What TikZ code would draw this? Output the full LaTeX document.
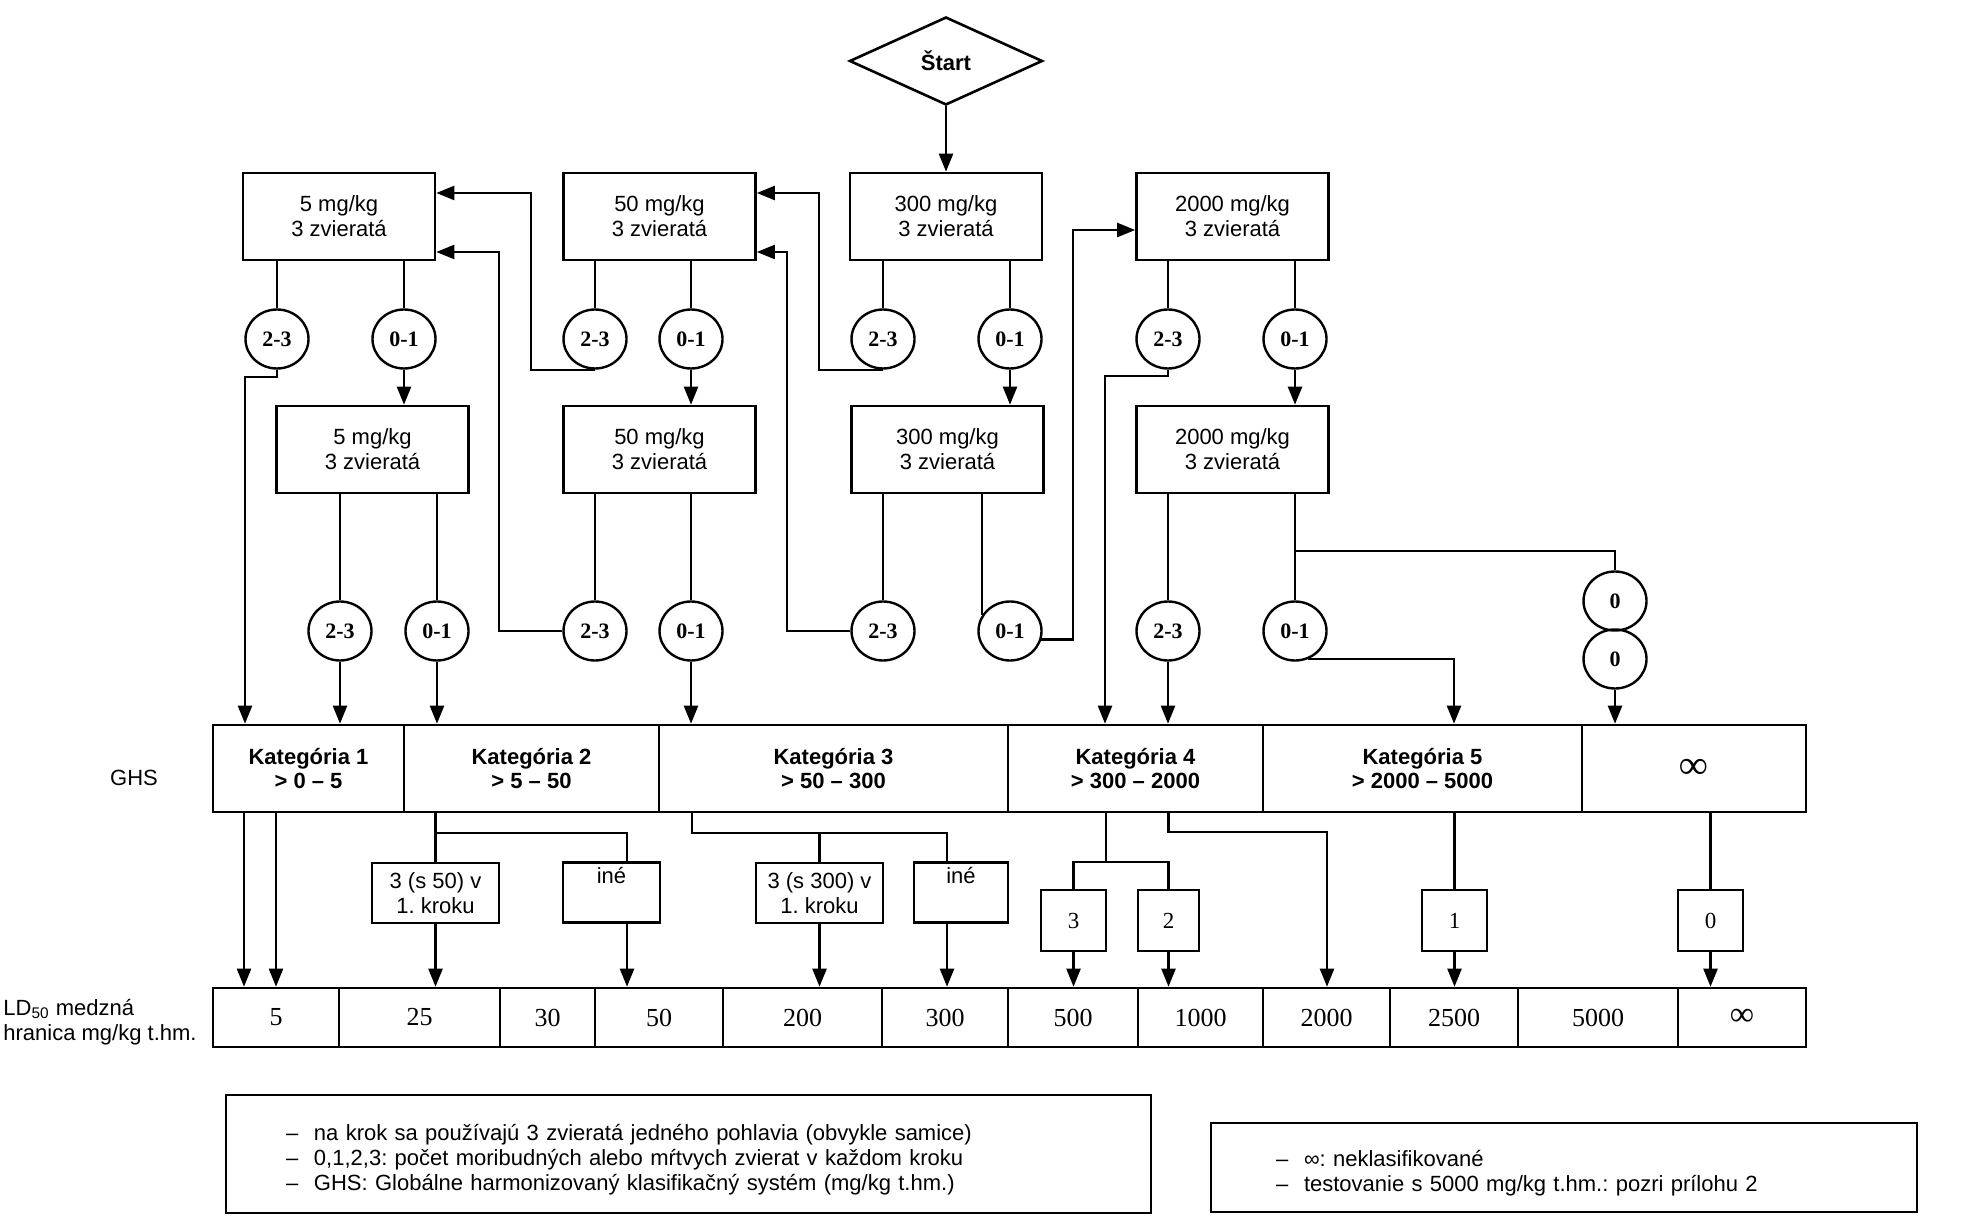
\documentclass[tikz,border=0pt]{standalone}
\usepackage{fontspec}
\setmainfont{Liberation Sans}
\newfontfamily\numfont{Liberation Serif}
\usetikzlibrary{arrows.meta,shapes.geometric}
\frenchspacing
\tikzset{
  startnode/.style={diamond,draw,line width=1.3pt,inner sep=0pt,minimum width=96.5pt,
    minimum height=44pt,font=\fontsize{11}{13}\selectfont\bfseries},
  dosebox/.style={rectangle,draw,line width=1.3pt,minimum width=96pt,minimum height=43.5pt,
    inner sep=0pt,align=center,font=\fontsize{11}{12.5}\selectfont},
  countnode/.style={ellipse,draw,line width=1.2pt,minimum width=31.5pt,minimum height=29.5pt,
    inner sep=0pt,font=\numfont\bfseries\fontsize{11}{11}\selectfont},
  katcell/.style={rectangle,draw,line width=1.3pt,minimum height=43.5pt,inner sep=0pt,
    align=center,font=\fontsize{11}{12}\selectfont\bfseries},
  ldcell/.style={rectangle,draw,line width=1.3pt,minimum height=29.5pt,inner sep=0pt,
    font=\numfont\fontsize{13}{13}\selectfont},
  stepbox/.style={rectangle,draw,line width=1.2pt,minimum height=30pt,inner sep=0pt,
    align=center,font=\fontsize{11}{12.5}\selectfont},
  numbox/.style={rectangle,draw,line width=1.2pt,minimum width=32.5pt,minimum height=30.5pt,
    inner sep=0pt,font=\numfont\fontsize{11.5}{11.5}\selectfont},
  flowline/.style={line width=1.15pt},
  flowarrow/.style={-{Triangle[length=9pt,width=7pt]},line width=1.15pt},
  legbox/.style={rectangle,draw,line width=1.2pt,inner ysep=0pt,align=left,
    font=\fontsize{11}{12.5}\selectfont},
  sidelabel/.style={font=\fontsize{11}{12.5}\selectfont},
}
\newcommand{\legdash}{\makebox[14pt][l]{–}}

\begin{document}
\begin{tikzpicture}[x=50pt,y=50pt]
  \useasboundingbox (0,0) rectangle (19.69,-12.29);

  % start and dose steps
  \node[startnode] (start) at (9.46,-0.61) {Štart};
  \node[dosebox] (a5) at (3.39,-2.165) {5 mg/kg\\3 zvieratá};
  \node[dosebox] (a50) at (6.595,-2.165) {50 mg/kg\\3 zvieratá};
  \node[dosebox] (a300) at (9.46,-2.165) {300 mg/kg\\3 zvieratá};
  \node[dosebox] (a2000) at (12.325,-2.165) {2000 mg/kg\\3 zvieratá};
  \node[dosebox] (b5) at (3.725,-4.495) {5 mg/kg\\3 zvieratá};
  \node[dosebox] (b50) at (6.595,-4.495) {50 mg/kg\\3 zvieratá};
  \node[dosebox] (b300) at (9.475,-4.495) {300 mg/kg\\3 zvieratá};
  \node[dosebox] (b2000) at (12.325,-4.495) {2000 mg/kg\\3 zvieratá};

  % number of dead animals
  \node[countnode] (a5x) at (2.77,-3.39) {2-3};
  \node[countnode] (a5y) at (4.04,-3.39) {0-1};
  \node[countnode] (a50x) at (5.95,-3.39) {2-3};
  \node[countnode] (a50y) at (6.91,-3.39) {0-1};
  \node[countnode] (a300x) at (8.83,-3.39) {2-3};
  \node[countnode] (a300y) at (10.10,-3.39) {0-1};
  \node[countnode] (a2000x) at (11.68,-3.39) {2-3};
  \node[countnode] (a2000y) at (12.95,-3.39) {0-1};
  \node[countnode] (b5x) at (3.40,-6.31) {2-3};
  \node[countnode] (b5y) at (4.37,-6.31) {0-1};
  \node[countnode] (b50x) at (5.95,-6.31) {2-3};
  \node[countnode] (b50y) at (6.91,-6.31) {0-1};
  \node[countnode] (b300x) at (8.83,-6.31) {2-3};
  \node[countnode] (b300y) at (10.10,-6.31) {0-1};
  \node[countnode] (b2000x) at (11.68,-6.31) {2-3};
  \node[countnode] (b2000y) at (12.95,-6.31) {0-1};
  \node[countnode] (z1) at (16.15,-6.01) {0};
  \node[countnode] (z2) at (16.15,-6.59) {0};

  % GHS categories
  \node[sidelabel] (ghs) at (1.34,-7.78) {GHS};
  \node[katcell,minimum width=95.5pt] (g1) at (3.085,-7.685) {Kategória 1\\> 0 – 5};
  \node[katcell,minimum width=127.5pt] (g2) at (5.315,-7.685) {Kategória 2\\> 5 – 50};
  \node[katcell,minimum width=174.5pt] (g3) at (8.335,-7.685) {Kategória 3\\> 50 – 300};
  \node[katcell,minimum width=127.5pt] (g4) at (11.355,-7.685) {Kategória 4\\> 300 – 2000};
  \node[katcell,minimum width=159.5pt] (g5) at (14.225,-7.685) {Kategória 5\\> 2000 – 5000};
  \node[katcell,minimum width=112pt] (ginf) at (16.94,-7.685) {\numfont\fontsize{20}{20}\selectfont ∞};

  % between categories and cut-off values
  \node[stepbox,minimum width=63.5pt] (s50) at (4.355,-8.93) {3 (s 50) v\\1. kroku};
  \node[stepbox,minimum width=48.5pt,inner ysep=2pt,text height=8pt,text depth=17.5pt] (ine1) at (6.115,-8.925) {iné};
  \node[stepbox,minimum width=63.5pt] (s300) at (8.195,-8.93) {3 (s 300) v\\1. kroku};
  \node[stepbox,minimum width=47pt,inner ysep=2pt,text height=8pt,text depth=17.5pt] (ine2) at (9.61,-8.925) {iné};
  \node[numbox] (n3) at (10.735,-9.205) {3};
  \node[numbox,minimum width=30.5pt] (n2) at (11.685,-9.205) {2};
  \node[numbox] (n1) at (14.545,-9.205) {1};
  \node[numbox] (n0) at (17.105,-9.205) {0};

  % LD50 cut-off values
  \node[sidelabel,anchor=west,align=left,inner xsep=0pt] (ldlab) at (0.03,-10.22) {LD\textsubscript{50} medzná\\hranica mg/kg t.hm.};
  \node[ldcell,minimum width=63pt] (l5) at (2.76,-10.175) {5};
  \node[ldcell,minimum width=80.5pt] (l25) at (4.195,-10.175) {25};
  \node[ldcell,minimum width=47.5pt] (l30) at (5.475,-10.175) {30};
  \node[ldcell,minimum width=64pt] (l50) at (6.59,-10.175) {50};
  \node[ldcell,minimum width=79.5pt] (l200) at (8.025,-10.175) {200};
  \node[ldcell,minimum width=63pt] (l300) at (9.45,-10.175) {300};
  \node[ldcell,minimum width=65pt] (l500) at (10.73,-10.175) {500};
  \node[ldcell,minimum width=62.5pt] (l1000) at (12.005,-10.175) {1000};
  \node[ldcell,minimum width=63.5pt] (l2000) at (13.265,-10.175) {2000};
  \node[ldcell,minimum width=64pt] (l2500) at (14.54,-10.175) {2500};
  \node[ldcell,minimum width=80pt] (l5000) at (15.98,-10.175) {5000};
  \node[ldcell,minimum width=64pt] (linf) at (17.42,-10.175) {\fontsize{17}{17}\selectfont ∞};

  % legend
  \node[legbox,text width=402.5pt,inner xsep=30pt,minimum height=59pt] (leg1) at (6.885,-11.54)
    {\rule{0pt}{14pt}\legdash na krok sa používajú 3 zvieratá jedného pohlavia (obvykle samice)\\
     \legdash 0,1,2,3: počet moribudných alebo mŕtvych zvierat v každom kroku\\
     \legdash GHS: Globálne harmonizovaný klasifikačný systém (mg/kg t.hm.)};
  \node[legbox,text width=288pt,inner xsep=32.5pt,minimum height=44.5pt] (leg2) at (15.64,-11.675)
    {\rule{0pt}{14pt}\legdash ∞: neklasifikované\\
     \legdash testovanie s 5000 mg/kg t.hm.: pozri prílohu 2};

  % bends
  \coordinate (j1) at (2.45,-3.77);
  \coordinate (j2) at (5.31,-1.93);
  \coordinate (j3) at (4.99,-2.52);
  \coordinate (j4) at (8.19,-1.93);
  \coordinate (j5) at (7.87,-2.52);
  \coordinate (j6) at (10.73,-2.30);
  \coordinate (j7) at (11.05,-3.76);
  \coordinate (j8) at (14.54,-6.58);
  \coordinate (j9) at (12.95,-5.51);
  \coordinate (c1a) at (2.44,-8.12);
  \coordinate (c1b) at (2.76,-8.12);
  \coordinate (h2) at (4.36,-8.33);
  \coordinate (h2r) at (6.27,-8.33);
  \coordinate (h3) at (6.92,-8.33);
  \coordinate (h3r) at (9.47,-8.33);
  \coordinate (h4) at (11.06,-8.62);
  \coordinate (h5) at (13.27,-8.32);

  \draw[flowarrow] (start.south) -- (a300.north);

  % boxes to counts
  \draw[flowline] (a5.south -| a5x) -- (a5x);
  \draw[flowline] (a5.south -| a5y) -- (a5y);
  \draw[flowline] (a50.south -| a50x) -- (a50x);
  \draw[flowline] (a50.south -| a50y) -- (a50y);
  \draw[flowline] (a300.south -| a300x) -- (a300x);
  \draw[flowline] (a300.south -| a300y) -- (a300y);
  \draw[flowline] (a2000.south -| a2000x) -- (a2000x);
  \draw[flowline] (a2000.south -| a2000y) -- (a2000y);
  \draw[flowline] (b5.south -| b5x) -- (b5x);
  \draw[flowline] (b5.south -| b5y) -- (b5y);
  \draw[flowline] (b50.south -| b50x) -- (b50x);
  \draw[flowline] (b50.south -| b50y) -- (b50y);
  \draw[flowline] (b300.south -| b300x) -- (b300x);
  \draw[flowline] (b300.south -| b300y.150) -- (b300y.150);
  \draw[flowline] (b2000.south -| b2000x) -- (b2000x);
  \draw[flowline] (b2000.south -| b2000y) -- (b2000y);
  \draw[flowline] (j9) -| (z1);

  % 0-1 : repeat the dose
  \draw[flowarrow] (a5y) -- (a5y |- b5.north);
  \draw[flowarrow] (a50y) -- (a50y |- b50.north);
  \draw[flowarrow] (a300y) -- (a300y |- b300.north);
  \draw[flowarrow] (a2000y) -- (a2000y |- b2000.north);

  % 2-3 : lower dose
  \draw[flowarrow] (a50x.south) -| (j2) -- (j2 -| a5.east);
  \draw[flowarrow] (b50x.west) -| (j3) -- (j3 -| a5.east);
  \draw[flowarrow] (a300x.south) -| (j4) -- (j4 -| a50.east);
  \draw[flowarrow] (b300x.west) -| (j5) -- (j5 -| a50.east);
  \draw[flowarrow] (b300y.-15) -| (j6) -- (j6 -| a2000.west);

  % counts to categories
  \draw[flowarrow] (a5x.south) |- (j1) -- (j1 |- g1.north);
  \draw[flowarrow] (b5x) -- (b5x |- g1.north);
  \draw[flowarrow] (b5y) -- (b5y |- g2.north);
  \draw[flowarrow] (b50y) -- (b50y |- g3.north);
  \draw[flowarrow] (a2000x.south) |- (j7) -- (j7 |- g4.north);
  \draw[flowarrow] (b2000x) -- (b2000x |- g4.north);
  \draw[flowarrow] (b2000y.-65) -| (j8 |- g5.north);
  \draw[flowarrow] (z2) -- (z2 |- ginf.north);

  % categories to cut-off values
  \draw[flowarrow] (g1.south -| c1a) -- (c1a |- l5.north);
  \draw[flowarrow] (g1.south -| c1b) -- (c1b |- l5.north);
  \draw[flowline] (g2.south -| s50) -- (s50);
  \draw[flowline] (h2) -| (ine1.north -| h2r);
  \draw[flowarrow] (s50) -- (s50 |- l25.north);
  \draw[flowarrow] (ine1.south -| h2r) -- (h2r |- l50.north);
  \draw[flowline] (g3.south -| h3) -- (h3) -| (ine2.north -| h3r);
  \draw[flowline] (s300.north |- h3) -- (s300);
  \draw[flowarrow] (s300) -- (s300 |- l200.north);
  \draw[flowarrow] (ine2.south -| h3r) -- (h3r |- l300.north);
  \draw[flowline] (g4.south -| h4) -- (h4);
  \draw[flowline] (n3) |- (n2.north |- h4) -- (n2);
  \draw[flowarrow] (n3) -- (n3 |- l500.north);
  \draw[flowarrow] (n2) -- (n2 |- l1000.north);
  \draw[flowarrow] (g4.south -| n2) |- (h5) -- (h5 |- l2000.north);
  \draw[flowline] (g5.south -| n1) -- (n1);
  \draw[flowarrow] (n1) -- (n1 |- l2500.north);
  \draw[flowline] (ginf.south -| n0) -- (n0);
  \draw[flowarrow] (n0) -- (n0 |- linf.north);
\end{tikzpicture}
\end{document}
